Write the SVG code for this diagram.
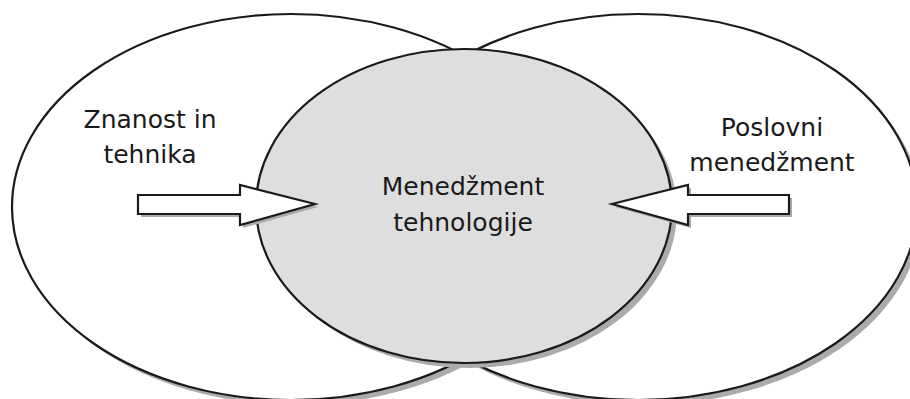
<svg xmlns="http://www.w3.org/2000/svg" width="910" height="399" viewBox="0 0 910 399">
<style>
.shadow{fill:#ababab;stroke:none}
.outer{fill:#ffffff;stroke:#1a1a1a;stroke-width:2.2}
.core{fill:#dedede;stroke:#1a1a1a;stroke-width:2.2}
.arrow{fill:#ffffff;stroke:#1a1a1a;stroke-width:2.2;stroke-linejoin:miter}
.lbl{font-family:"DejaVu Sans","Liberation Sans",sans-serif;font-size:25px;fill:#1a1a1a;text-anchor:middle}
</style>
<rect width="910" height="399" fill="#ffffff"/>
<g id="shadows">
<ellipse class="shadow" cx="296" cy="212" rx="279" ry="193"/>
<ellipse class="shadow" cx="643" cy="212" rx="279" ry="193"/>
</g>
<g id="node-znanost">
<ellipse class="outer" cx="291" cy="207" rx="279" ry="193"/>
<text class="lbl" x="150" y="128">Znanost in</text>
<text class="lbl" x="150" y="163">tehnika</text>
</g>
<g id="node-poslovni">
<ellipse class="outer" cx="638" cy="207" rx="279" ry="193"/>
<text class="lbl" x="772" y="136">Poslovni</text>
<text class="lbl" x="772" y="171">menedžment</text>
</g>
<g id="node-menedzment">
<ellipse class="shadow" cx="469" cy="211" rx="208" ry="157"/>
<ellipse class="core" cx="464" cy="206" rx="208" ry="157"/>
<text class="lbl" x="463" y="195">Menedžment</text>
<text class="lbl" x="463" y="231">tehnologije</text>
</g>
<g id="connectors">
<polygon class="shadow" points="141,198 243,198 243,188 318,207 243,228 243,217 141,217"/>
<polygon class="arrow" points="138,195 240,195 240,185 315,204 240,225 240,214 138,214"/>
<polygon class="shadow" points="792,198 691,198 691,188 615,207 691,228 691,217 792,217"/>
<polygon class="arrow" points="789,195 688,195 688,185 612,204 688,225 688,214 789,214"/>
</g>
</svg>
